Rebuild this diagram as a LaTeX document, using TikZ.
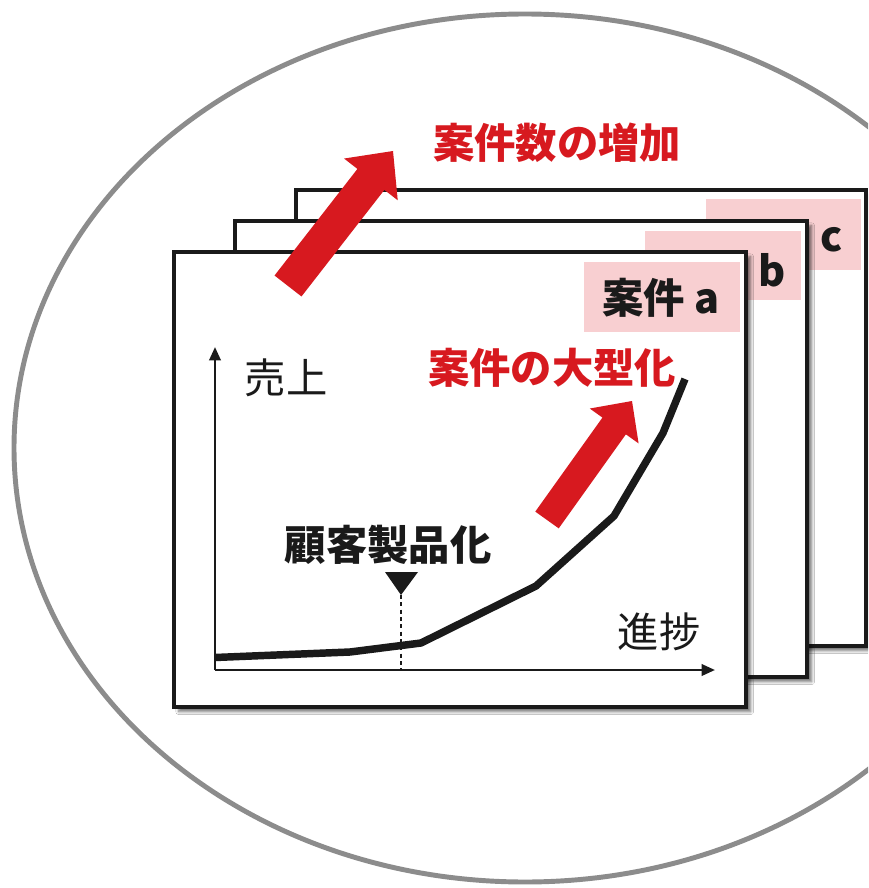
\documentclass[tikz,border=0pt]{standalone}
\usepackage{fontspec}
\setmainfont{Noto Sans CJK JP}
\usetikzlibrary{calc,shadows.blur,arrows.meta}
\definecolor{ringgray}{HTML}{8C8C8C}
\definecolor{hired}{HTML}{D7191F}
\definecolor{labpink}{HTML}{F8CFD1}
\definecolor{inkblk}{HTML}{1A1A1A}
\tikzset{
  card/.style={draw=inkblk, line width=2.8pt, fill=white,
    blur shadow={shadow xshift=3.5pt, shadow yshift=-3.5pt, shadow opacity=55, shadow blur steps=6}},
  labbox/.style={fill=labpink, draw=none},
  bigred/.style={font=\bfseries\fontsize{31}{34}\selectfont, text=hired, inner sep=0pt},
  bigblk/.style={font=\bfseries\fontsize{31}{34}\selectfont, text=inkblk, inner sep=0pt},
  regblk/.style={font=\fontsize{31}{34}\selectfont, text=inkblk, inner sep=0pt},
  axisline/.style={draw=inkblk, line width=1.9pt, -{Triangle[length=10pt,width=8.5pt]}},
  curveline/.style={draw=inkblk, line width=5.6pt, line join=round},
  redarrow/.style={fill=hired, draw=none},
}
\newcommand{\blockarr}[5]{% tail, tip, half shaft, half head, head length (pt)
  \path (#1) coordinate (bt) (#2) coordinate (bp);
  \path ($(bp)!#5!(bt)$) coordinate (bb);
  \fill[redarrow] ($(bt)!#3!90:(bp)$) -- ($(bb)!#3!90:(bp)$) -- ($(bb)!#4!90:(bp)$)
    -- (bp) -- ($(bb)!#4!-90:(bp)$) -- ($(bb)!#3!-90:(bp)$) -- ($(bt)!#3!-90:(bp)$) -- cycle;
}
\begin{document}
\begin{tikzpicture}[x=0.75pt, y=-0.75pt]
\useasboundingbox (0,0) rectangle (868,888);
\clip (0,0) rectangle (868,888);
\fill[white] (0,0) rectangle (868,888);
% outer ring
\draw[ringgray, line width=3.7pt] (525,448) ellipse [x radius=511, y radius=434];
% card c
\path[card] (296,190) rectangle (866,646);
\path[labbox] (706,199) rectangle (861,270);
\node[bigblk] (labc) at (832,240) {c};
% card b
\path[card] (235,221) rectangle (807,677);
\path[labbox] (645,231) rectangle (801,300);
\node[bigblk] (labb) at (772,270) {b};
% card a
\path[card] (174,252) rectangle (746,707);
\path[labbox] (584,262) rectangle (740,332);
\node[bigblk] (laba) at (661,298) {案件 a};
% axes
\coordinate (O) at (215,670);
\coordinate (Ytip) at (215,347);
\coordinate (Xtip) at (715,670);
\draw[axisline] (O) -- (Ytip);
\draw[axisline] (O) -- (Xtip);
\node[regblk] (uri) at (286,378) {売上};
\node[regblk] (shin) at (659,632) {進捗};
% curve
\draw[curveline] (215,657.5) -- (350,652) -- (421,643) -- (536,586) -- (614,516) -- (663,433) -- (685,379);
% marker
\coordinate (mk) at (401,595);
\coordinate (mkb) at (401,670);
\fill[inkblk] (385,572) -- (418,572) -- (mk) -- cycle;
\draw[inkblk, line width=0.8pt, dashed, dash pattern=on 3pt off 2.5pt] (mk) -- (mkb);
\node[bigblk] (kokyaku) at (388,545) {顧客製品化};
% red arrows
\coordinate (a1t) at (288,286);
\coordinate (a1p) at (393,151);
\blockarr{a1t}{a1p}{12.8pt}{25.5pt}{27pt}
\coordinate (a2t) at (547,520);
\coordinate (a2p) at (632,401);
\blockarr{a2t}{a2p}{10.8pt}{22.5pt}{23pt}
\node[bigred] (zouka) at (557,143) {案件数の増加};
\node[bigred] (oogata) at (552,368) {案件の大型化};
\end{tikzpicture}
\end{document}
